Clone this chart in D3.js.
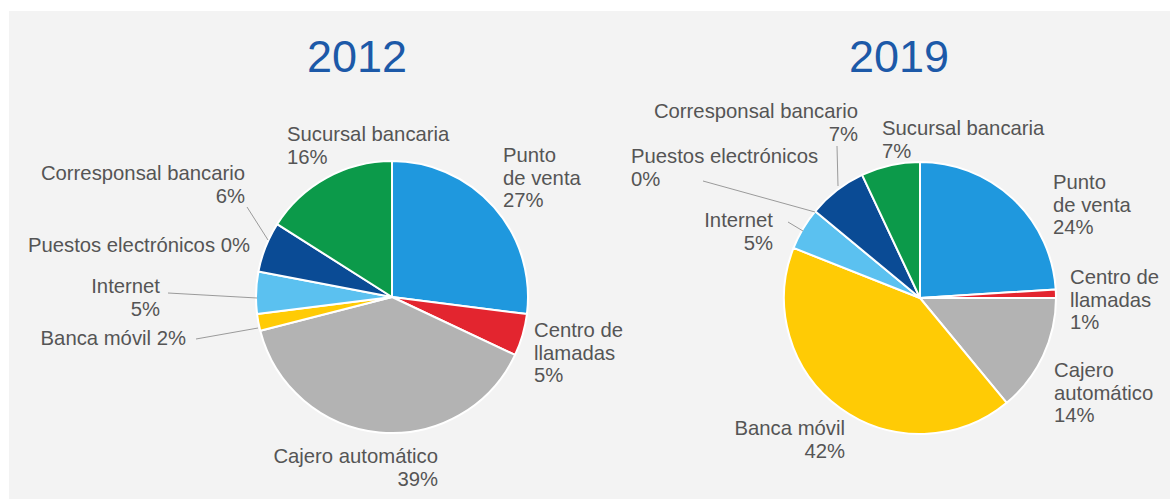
<!DOCTYPE html>
<html>
<head>
<meta charset="utf-8">
<script src="https://cdn.jsdelivr.net/npm/d3@7"></script>
<style>
  html, body { margin: 0; padding: 0; background: #ffffff; }
  svg { display: block; }
  text { font-family: "Liberation Sans", Arial, sans-serif; }
</style>
</head>
<body>
<svg id="chart" width="1170" height="499"></svg>
<script>
// Channel shares (%) of banking transactions, clockwise from 12 o'clock
const categories = [
  "Punto de venta", "Centro de llamadas", "Cajero automático", "Banca móvil",
  "Internet", "Puestos electrónicos", "Corresponsal bancario", "Sucursal bancaria"
];
const years = ["2012", "2019"];
const shares2012 = [27, 5, 39, 2, 5, 0, 6, 16];
const shares2019 = [24, 1, 14, 42, 5, 0, 7, 7];
const sliceColors = [
  "#1f98de", "#e3252f", "#b3b3b3", "#ffcb05",
  "#5bc1f0", "#8a8a8a", "#0a4b95", "#0c9a4a"
];

// Label placement per pie: text lines ("{v}" = value), anchor point, leader start
const labelLayout2012 = [
  { lines: ["Punto", "de venta", "{v}"], x: 503, y: 162, anchor: "start" },
  { lines: ["Centro de", "llamadas", "{v}"], x: 534, y: 337, anchor: "start" },
  { lines: ["Cajero automático", "{v}"], x: 438, y: 463, anchor: "end" },
  { lines: ["Banca móvil {v}"], x: 186, y: 345, anchor: "end", leader: [196, 339], tip: [258, 328] },
  { lines: ["Internet", "{v}"], x: 160, y: 293, anchor: "end", leader: [168, 293], tip: [257, 298] },
  { lines: ["Puestos electrónicos {v}"], x: 250, y: 252, anchor: "end" },
  { lines: ["Corresponsal bancario", "{v}"], x: 245, y: 180, anchor: "end", leader: [247, 207], tip: [268, 240] },
  { lines: ["Sucursal bancaria", "{v}"], x: 287, y: 141, anchor: "start" }
];
const labelLayout2019 = [
  { lines: ["Punto", "de venta", "{v}"], x: 1053, y: 189, anchor: "start" },
  { lines: ["Centro de", "llamadas", "{v}"], x: 1070, y: 284, anchor: "start" },
  { lines: ["Cajero", "automático", "{v}"], x: 1054, y: 377, anchor: "start" },
  { lines: ["Banca móvil", "{v}"], x: 845, y: 435, anchor: "end" },
  { lines: ["Internet", "{v}"], x: 773, y: 227, anchor: "end", leader: [788, 222], tip: [803, 231] },
  { lines: ["Puestos electrónicos", "{v}"], x: 631, y: 163, anchor: "start", leader: [703, 181], tip: [815, 212] },
  { lines: ["Corresponsal bancario", "{v}"], x: 858, y: 118, anchor: "end", leader: [837, 146], tip: [838, 186] },
  { lines: ["Sucursal bancaria", "{v}"], x: 882, y: 135, anchor: "start" }
];

const svg = d3.select("#chart");

// light panel behind the two pies
svg.append("rect")
  .attr("x", 9).attr("y", 11)
  .attr("width", 1161).attr("height", 488)
  .attr("fill", "#f3f3f3");

const pie = d3.pie().sort(null).value(d => d.value);
const radius = 136;
const arc = d3.arc().innerRadius(0).outerRadius(radius);

const charts = [
  { year: years[0], values: shares2012, layout: labelLayout2012, cx: 392, cy: 297, titleX: 357 },
  { year: years[1], values: shares2019, layout: labelLayout2019, cx: 920, cy: 298, titleX: 899 }
];

charts.forEach(c => {
  const data = categories.map((name, i) => ({ name, value: c.values[i], color: sliceColors[i] }));

  svg.append("text")
    .attr("x", c.titleX).attr("y", 72)
    .attr("text-anchor", "middle")
    .attr("font-size", 45)
    .attr("fill", "#1c59a8")
    .text(c.year);

  const g = svg.append("g").attr("transform", `translate(${c.cx},${c.cy})`);
  g.selectAll("path")
    .data(pie(data).filter(d => d.data.value > 0))
    .join("path")
    .attr("d", arc)
    .attr("fill", d => d.data.color)
    .attr("stroke", "#ffffff")
    .attr("stroke-width", 2)
    .attr("stroke-linejoin", "round");

  // leader lines
  c.layout.forEach(l => {
    if (!l.leader) return;
    svg.append("line")
      .attr("x1", l.leader[0]).attr("y1", l.leader[1])
      .attr("x2", l.tip[0]).attr("y2", l.tip[1])
      .attr("stroke", "#9a9a9a")
      .attr("stroke-width", 1);
  });

  // labels
  c.layout.forEach((l, i) => {
    const t = svg.append("text")
      .attr("x", l.x).attr("y", l.y)
      .attr("text-anchor", l.anchor)
      .attr("font-size", 20.3)
      .attr("fill", "#555555");
    l.lines.forEach((line, k) => {
      t.append("tspan")
        .attr("x", l.x)
        .attr("dy", k === 0 ? 0 : 22.5)
        .text(line.replace("{v}", c.values[i] + "%"));
    });
  });
});
</script>
</body>
</html>
